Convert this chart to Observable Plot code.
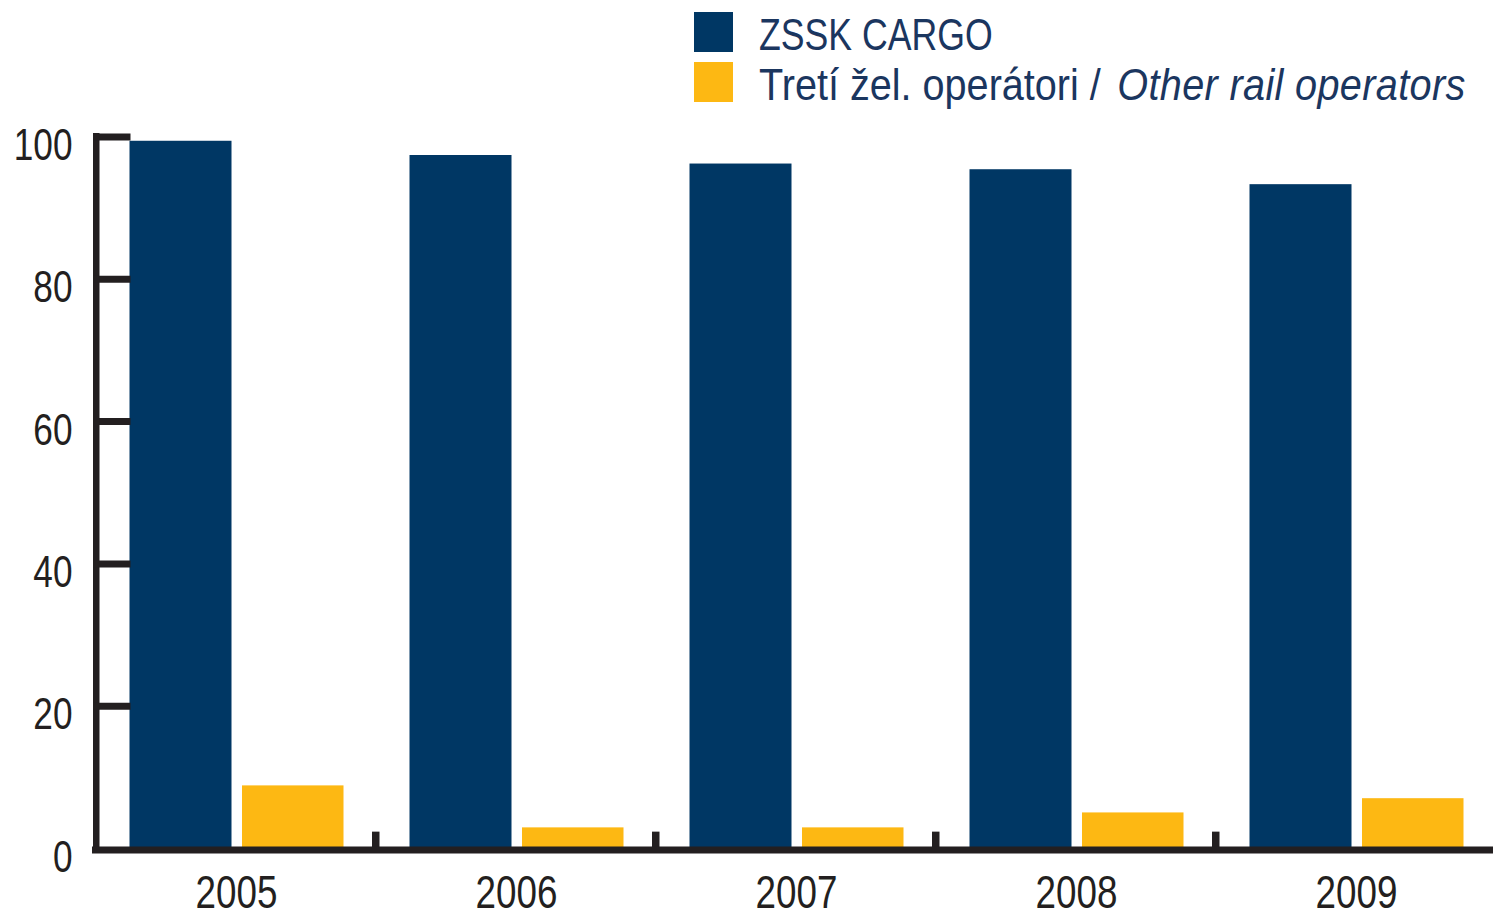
<!DOCTYPE html>
<html><head><meta charset="utf-8">
<script src="https://cdn.jsdelivr.net/npm/d3@7"></script>
<script src="https://cdn.jsdelivr.net/npm/@observablehq/plot@0.6"></script>
<style>
body{margin:0;background:#fff;}
#wrap{position:relative;width:1493px;height:914px;overflow:hidden;font-family:"Liberation Sans",Arial,sans-serif;}
#legend{position:relative;height:110px;}
.sw{position:absolute;left:694px;width:39px;height:40px;}
.lt{position:absolute;left:759px;font-size:44px;line-height:1;color:#1b365f;white-space:nowrap;transform-origin:0 0;}
.lt i{letter-spacing:0.4px;margin-left:6px;}
#chart svg{display:block;}
</style></head><body>
<div id="wrap"><div id="legend"></div><div id="chart"></div></div>
<script>
const years = ["2005", "2006", "2007", "2008", "2009"];
const zssk = [99.4, 97.4, 96.2, 95.4, 93.3];
const others = [8.8, 2.9, 2.9, 5.0, 7.0];
const yTicks = [0, 20, 40, 60, 80, 100];
const seriesKeys = ["ZSSK CARGO", "Other"];
const legendNormal = ["ZSSK CARGO", "Tretí žel. operátori / "];
const legendItalic = ["", "Other rail operators"];
const legendScale = [0.81, 0.9];
const colors = ["#003764", "#fdb813"];
const axisColor = "#231f20";
const font = '"Liberation Sans",Arial,sans-serif';
const condense = 0.8;

const rows = [];
years.forEach((y, i) => {
  rows.push({year: y, series: seriesKeys[0], value: zssk[i]});
  rows.push({year: y, series: seriesKeys[1], value: others[i]});
});

// legend
const leg = document.getElementById("legend");
seriesKeys.forEach((k, i) => {
  const sw = document.createElement("div");
  sw.className = "sw";
  sw.style.top = (12 + i * 50) + "px";
  sw.style.background = colors[i];
  leg.appendChild(sw);
  const t = document.createElement("div");
  t.className = "lt";
  t.style.top = (13 + i * 50) + "px";
  t.style.transform = `scaleX(${legendScale[i]})`;
  t.appendChild(document.createTextNode(legendNormal[i]));
  if (legendItalic[i]) {
    const it = document.createElement("i");
    it.textContent = legendItalic[i];
    t.appendChild(it);
  }
  leg.appendChild(t);
});

const chart = Plot.plot({
  width: 1493,
  height: 804,
  marginTop: 26.5,
  marginBottom: 66,
  marginLeft: 95,
  marginRight: 0,
  style: {fontFamily: font, background: "#fff", overflow: "visible"},
  x: {type: "band", domain: years, range: [95, 1497.5], padding: 0, axis: null},
  y: {domain: [0, 100], axis: null},
  color: {domain: seriesKeys, range: colors},
  marks: [
    Plot.barY(rows.filter(d => d.series === seriesKeys[0]), {x: "year", y: "value", fill: "series", insetLeft: 33.5, insetRight: 144.5}),
    Plot.barY(rows.filter(d => d.series === seriesKeys[1]), {x: "year", y: "value", fill: "series", insetLeft: 146, insetRight: 32.5}),
    Plot.barY([years[0]], {x: d => d, y1: 0, y2: 100, insetLeft: -3, insetRight: 276.5, insetTop: -3.5, insetBottom: -5, fill: axisColor}),
    Plot.tickY(yTicks.filter(d => d > 0), {y: d => d, x: () => years[0], insetLeft: -3, insetRight: 245.5, stroke: axisColor, strokeWidth: 7}),
    Plot.barY(years.slice(1), {x: d => d, y1: 0, y2: 2.3, insetLeft: -4, insetRight: 276.5, fill: axisColor}),
    Plot.ruleY([0], {stroke: axisColor, strokeWidth: 7, dy: 1.5, insetLeft: -3}),
    Plot.text(yTicks, {y: d => d, text: d => String(d), frameAnchor: "left", textAnchor: "end", dx: -23, dy: 9, fontSize: 44, fill: axisColor}),
    Plot.text(years, {x: d => d, text: d => d, frameAnchor: "bottom", lineAnchor: "top", dy: 27, fontSize: 46, fill: axisColor})
  ]
});
// condense the label glyphs horizontally (reference uses a condensed face)
chart.querySelectorAll("g[aria-label='text'] text").forEach(t => {
  const tr = t.getAttribute("transform");
  if (tr) {
    t.setAttribute("transform", tr + ` scale(${condense},1)`);
  } else {
    const x = +(t.getAttribute("x") || 0), y = +(t.getAttribute("y") || 0);
    t.removeAttribute("x"); t.removeAttribute("y");
    t.setAttribute("transform", `translate(${x},${y}) scale(${condense},1)`);
  }
});
document.getElementById("chart").appendChild(chart);
</script>
</body></html>
